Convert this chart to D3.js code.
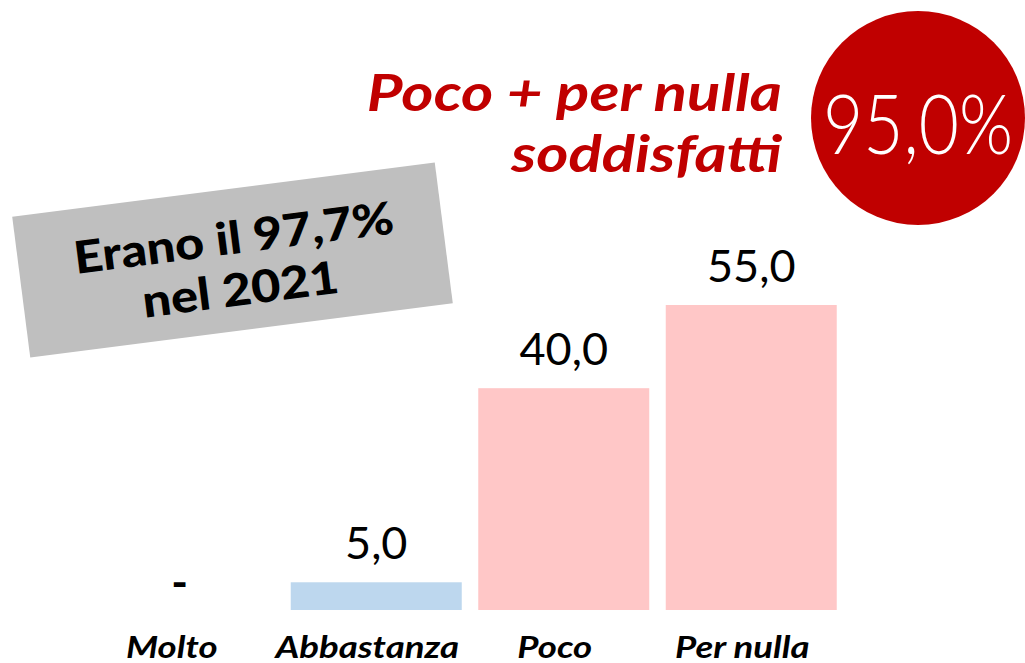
<!DOCTYPE html>
<html><head><meta charset="utf-8">
<script src="https://cdn.jsdelivr.net/npm/d3@7"></script>
<style>body{margin:0;background:#fff;}svg{display:block;}</style>
</head><body>
<svg id="c" width="1025" height="663"></svg>
<script>
const categories = ["Molto","Abbastanza","Poco","Per nulla"];
const values = [0, 5.0, 40.0, 55.0];
const valueLabels = ["-","5,0","40,0","55,0"];
const barColors = ["#BDD7EE","#BDD7EE","#FFC7C7","#FFC7C7"];
const titleLines = ["Poco + per nulla","soddisfatti"];
const totalLabel = "95,0%";
const noteLines = ["Erano il 97,7%","nel 2021"];

const svg = d3.select("#c");
const font = "Lato, 'Open Sans', sans-serif";

// widen glyphs (Century Gothic-like proportions)
function stretch(sel, f) {
  sel.each(function() {
    const w = this.getComputedTextLength();
    d3.select(this).attr("textLength", w * f).attr("lengthAdjust", "spacingAndGlyphs");
  });
}

const x = d3.scaleBand().domain(categories).range([95, 845]).paddingInner(0.088).paddingOuter(0.044);
const y = d3.scaleLinear().domain([0, 55]).range([610, 305]);

// bars
svg.selectAll("rect.bar").data(categories).enter().append("rect")
  .attr("class","bar")
  .attr("x", d => x(d)).attr("width", x.bandwidth())
  .attr("y", (d,i) => y(values[i])).attr("height", (d,i) => y(0) - y(values[i]))
  .attr("fill", (d,i) => barColors[i]);

// value labels
const vl = svg.selectAll("text.val").data(categories).enter().append("text")
  .attr("class","val")
  .attr("x", (d,i) => x(d) + x.bandwidth()/2 + (i===0 ? -9 : 0))
  .attr("y", (d,i) => values[i] === 0 ? 599 : y(values[i]) - 23)
  .attr("text-anchor","middle")
  .attr("font-family", font).attr("font-weight", (d,i) => i===0 ? 700 : 400).attr("font-size", 45)
  .attr("fill","#000")
  .text((d,i) => valueLabels[i]);

// category labels
const xAxis = d3.axisBottom(x).tickSize(0).tickPadding(0);
const ax = svg.append("g").attr("transform","translate(0,637)").call(xAxis);
ax.select(".domain").remove();
const tl = ax.selectAll("text")
  .attr("font-family", font).attr("font-weight", 700).attr("font-style","italic")
  .attr("font-size", 30).attr("fill","#000")
  .attr("dy","0.71em")
  .attr("dx", (d,i) => i===0 ? -17 : -9);
stretch(tl, 1.22);

// title
const title = svg.append("text").attr("text-anchor","end")
  .attr("font-family", font).attr("font-weight", 700).attr("font-style","italic")
  .attr("font-size", 51).attr("fill","#C00000");
titleLines.forEach((t,i) => title.append("tspan").attr("x", 782).attr("y", 111 + i*61).text(t));
title.selectAll("tspan").each(function(){
  const w = this.getComputedTextLength();
  d3.select(this).attr("textLength", w*1.21).attr("lengthAdjust","spacingAndGlyphs");
});

// circle
svg.append("circle").attr("cx", 918).attr("cy", 118).attr("r", 107).attr("fill","#C00000");
const tot = svg.append("text").attr("x", 918).attr("y", 154).attr("text-anchor","middle")
  .attr("font-family", font).attr("font-weight", 300).attr("font-size", 82)
  .attr("fill","#fff").text(totalLabel);
tot.attr("textLength", 190).attr("lengthAdjust","spacingAndGlyphs");

// rotated note box
const note = svg.append("g").attr("transform","translate(232.5,260) rotate(-7.3)");
note.append("rect").attr("x",-213).attr("y",-71).attr("width",426).attr("height",142).attr("fill","#BFBFBF");
const nt = note.append("text").attr("text-anchor","middle")
  .attr("font-family", font).attr("font-weight", 900).attr("font-size", 45).attr("fill","#000");
noteLines.forEach((t,i) => nt.append("tspan").attr("x", 4).attr("y", -6 + i*52).text(t));
nt.selectAll("tspan").each(function(){
  const w = this.getComputedTextLength();
  d3.select(this).attr("textLength", w*1.12).attr("lengthAdjust","spacingAndGlyphs");
});
</script>
</body></html>
